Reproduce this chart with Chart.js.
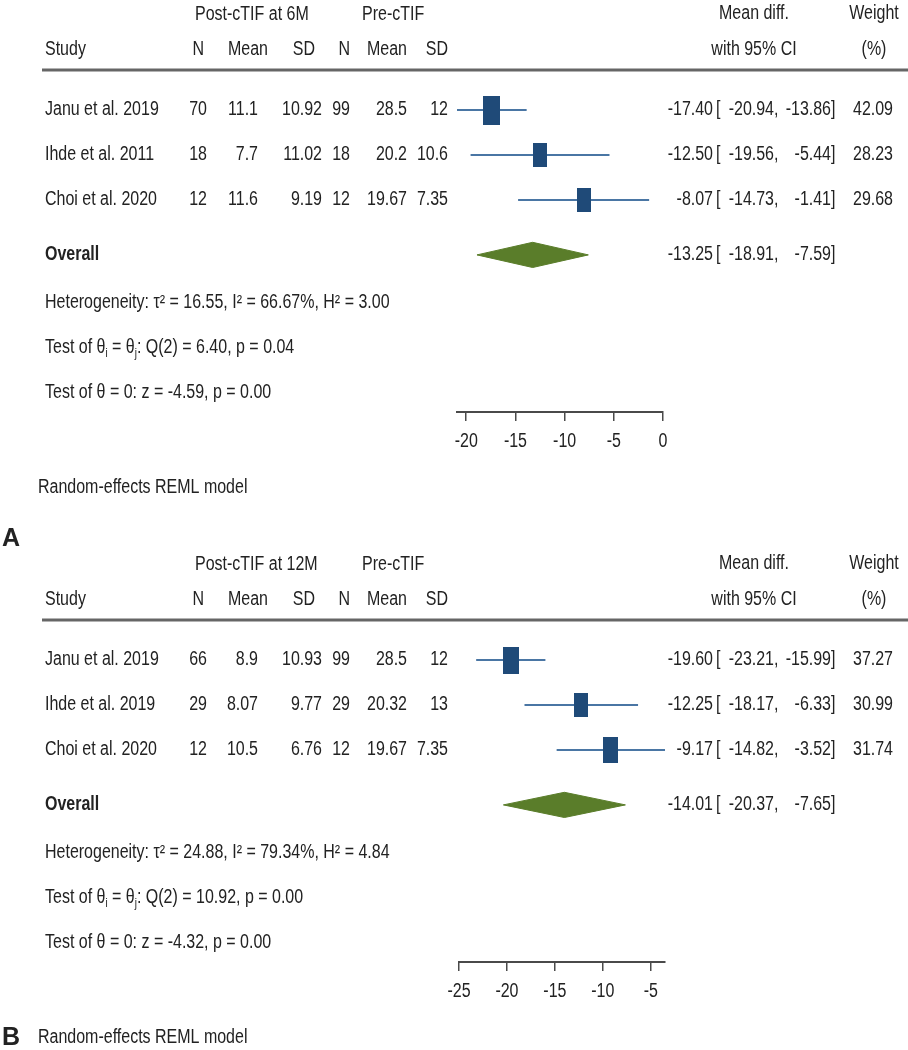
<!DOCTYPE html>
<html>
<head>
<meta charset="utf-8">
<script src="https://cdn.jsdelivr.net/npm/chart.js@4.4.0/dist/chart.umd.min.js"></script>
<style>
  body { margin: 0; background: #fff; }
  canvas { position: absolute; left: 0; }
</style>
</head>
<body>
<canvas id="panelA" width="908" height="525" style="top:0"></canvas>
<canvas id="panelB" width="908" height="525" style="top:525px"></canvas>
<script>
// ---- panel A: 6 months ----
var studiesA = ['Janu et al. 2019', 'Ihde et al. 2011', 'Choi et al. 2020'];
var postNA = [70, 18, 12];
var postMeanA = ['11.1', '7.7', '11.6'];
var postSdA = ['10.92', '11.02', '9.19'];
var preNA = [99, 18, 12];
var preMeanA = ['28.5', '20.2', '19.67'];
var preSdA = ['12', '10.6', '7.35'];
var mdA = [-17.40, -12.50, -8.07];
var loA = [-20.94, -19.56, -14.73];
var hiA = [-13.86, -5.44, -1.41];
var weightA = [42.09, 28.23, 29.68];
var overallA = [-13.25, -18.91, -7.59];   // est, lo, hi
var hetA = ['16.55', '66.67', '3.00'];     // tau2, I2, H2
var qTestA = ['6.40', '0.04'];
var zTestA = ['-4.59', '0.00'];
var ticksA = [-20, -15, -10, -5, 0];

// ---- panel B: 12 months ----
var studiesB = ['Janu et al. 2019', 'Ihde et al. 2019', 'Choi et al. 2020'];
var postNB = [66, 29, 12];
var postMeanB = ['8.9', '8.07', '10.5'];
var postSdB = ['10.93', '9.77', '6.76'];
var preNB = [99, 29, 12];
var preMeanB = ['28.5', '20.32', '19.67'];
var preSdB = ['12', '13', '7.35'];
var mdB = [-19.60, -12.25, -9.17];
var loB = [-23.21, -18.17, -14.82];
var hiB = [-15.99, -6.33, -3.52];
var weightB = [37.27, 30.99, 31.74];
var overallB = [-14.01, -20.37, -7.65];
var hetB = ['24.88', '79.34', '4.84'];
var qTestB = ['10.92', '0.00'];
var zTestB = ['-4.32', '0.00'];
var ticksB = [-25, -20, -15, -10, -5];

var FONT = "'Liberation Sans', Arial, sans-serif";
var NARROW = 0.82;   // squeeze Liberation Sans to look like Arial Narrow
var BOX = '#1f4a78';
var CI = '#4a76a4';
var GREEN = '#5a7d2a';
var TEXT = '#222';

// row positions on the hidden y scale (1 unit = one study row)
var ROW_OVERALL = 4.22;
var ROW_STATS = [5.27, 6.27, 7.27];
var DIAMOND_H = 0.28;

function boxImage(w) {
  var bw = Math.round(2.6 * Math.sqrt(w));
  var bh = Math.round(bw * 1.7);
  var c = document.createElement('canvas');
  c.width = bw; c.height = bh;
  var g = c.getContext('2d');
  g.fillStyle = BOX;
  g.fillRect(0, 0, bw, bh);
  return c;
}

var tablePlugin = {
  id: 'forestTable',
  afterDraw: function (chart) {
    var p = chart.options.plugins.forestTable;
    var ctx = chart.ctx;
    var ys = chart.scales.y;
    var xs = chart.scales.x;
    var top = p.yOff;

    ctx.save();
    ctx.fillStyle = TEXT;
    ctx.textBaseline = 'middle';
    function txt(s, x, y, align, bold, size, squeeze) {
      var sq = squeeze || NARROW;
      ctx.save();
      ctx.font = (bold ? 'bold ' : '') + (size || 19.5) + 'px ' + FONT;
      ctx.textAlign = align || 'left';
      ctx.translate(x, y);
      ctx.scale(sq, 1);
      ctx.fillText(s, 0, 0);
      var w = ctx.measureText(s).width * sq;
      ctx.restore();
      return w;
    }
    function ciText(est, lo, hi, y) {
      txt(est.toFixed(2), 713, y, 'right');
      txt('[', 716, y, 'left');
      txt(lo.toFixed(2), 774, y, 'right');
      txt(',', 774, y, 'left');
      txt(hi.toFixed(2), 831, y, 'right');
      txt(']', 831, y, 'left');
    }

    // header
    txt(p.group, 195, top + 15, 'left');
    txt('Pre-cTIF', 362, top + 15, 'left');
    txt('Study', 45, top + 50, 'left');
    txt('N', 204, top + 50, 'right');
    txt('Mean', 268, top + 50, 'right');
    txt('SD', 315, top + 50, 'right');
    txt('N', 350, top + 50, 'right');
    txt('Mean', 407, top + 50, 'right');
    txt('SD', 448, top + 50, 'right');
    txt('Mean diff.', 754, top + 14, 'center');
    txt('with 95% CI', 754, top + 50, 'center');
    txt('Weight', 874, top + 14, 'center');
    txt('(%)', 874, top + 50, 'center');

    ctx.strokeStyle = '#666';
    ctx.lineWidth = 3;
    ctx.beginPath();
    ctx.moveTo(42, top + 70);
    ctx.lineTo(908, top + 70);
    ctx.stroke();

    // study rows
    p.studies.forEach(function (s, i) {
      var y = ys.getPixelForValue(i + 1);
      txt(s, 45, y, 'left');
      txt(String(p.postN[i]), 207, y, 'right');
      txt(p.postMean[i], 258, y, 'right');
      txt(p.postSd[i], 322, y, 'right');
      txt(String(p.preN[i]), 350, y, 'right');
      txt(p.preMean[i], 407, y, 'right');
      txt(p.preSd[i], 448, y, 'right');
      ciText(p.md[i], p.lo[i], p.hi[i], y);
      txt(p.weight[i].toFixed(2), 893, y, 'right');
    });

    // overall
    var yo = ys.getPixelForValue(ROW_OVERALL);
    txt('Overall', 45, yo, 'left', true);
    ciText(p.overall[0], p.overall[1], p.overall[2], yo);

    // heterogeneity and tests
    var y1 = ys.getPixelForValue(ROW_STATS[0]);
    txt('Heterogeneity: \u03C4\u00B2 = ' + p.het[0] + ', I\u00B2 = ' + p.het[1] + '%, H\u00B2 = ' + p.het[2], 45, y1, 'left');

    var y2 = ys.getPixelForValue(ROW_STATS[1]);
    var x = 45;
    x += txt('Test of \u03B8', x, y2, 'left');
    x += txt('i', x, y2 + 7, 'left', false, 12);
    x += txt(' = \u03B8', x, y2, 'left');
    x += txt('j', x, y2 + 7, 'left', false, 12);
    txt(': Q(2) = ' + p.q[0] + ', p = ' + p.q[1], x, y2, 'left');

    var y3 = ys.getPixelForValue(ROW_STATS[2]);
    txt('Test of \u03B8 = 0: z = ' + p.z[0] + ', p = ' + p.z[1], 45, y3, 'left');

    // x axis tick labels, placed from the scale
    xs.ticks.forEach(function (t) {
      txt(String(t.value), xs.getPixelForValue(t.value), xs.top + 30, 'center');
    });

    txt('Random-effects REML model', 38, top + 488, 'left');
    if (p.panelLabel) txt(p.panelLabel, 2, top + 488, 'left', true, 25, 1);
    if (p.prevLabel) txt(p.prevLabel, 2, 14, 'left', true, 25, 1);
    ctx.restore();
  }
};

function makePanel(id, d) {
  var xMin = Math.min.apply(null, d.lo.concat(d.ticks));
  var xMax = Math.max.apply(null, d.hi.concat(d.ticks));
  var rows = d.md.map(function (v, i) { return i + 1; });

  var datasets = [];
  // study boxes
  datasets.push({
    data: d.md.map(function (v, i) { return { x: v, y: rows[i] }; }),
    pointStyle: d.weight.map(boxImage),
    pointRadius: 5,
    showLine: false
  });
  // confidence intervals
  d.md.forEach(function (v, i) {
    datasets.push({
      data: [{ x: d.lo[i], y: rows[i] }, { x: d.hi[i], y: rows[i] }],
      showLine: true,
      borderColor: CI,
      borderWidth: 2,
      pointRadius: 0
    });
  });
  // overall diamond
  var o = d.overall;
  datasets.push({
    data: [
      { x: o[1], y: ROW_OVERALL },
      { x: o[0], y: ROW_OVERALL - DIAMOND_H },
      { x: o[2], y: ROW_OVERALL },
      { x: o[0], y: ROW_OVERALL + DIAMOND_H },
      { x: o[1], y: ROW_OVERALL }
    ],
    showLine: true,
    fill: 'shape',
    backgroundColor: GREEN,
    borderColor: GREEN,
    borderWidth: 1,
    pointRadius: 0
  });

  var axisTop = d.yOff + 412;
  return new Chart(document.getElementById(id), {
    type: 'scatter',
    data: { datasets: datasets },
    options: {
      responsive: false,
      animation: false,
      devicePixelRatio: 1,
      events: [],
      layout: { padding: { left: d.left, right: 908 - d.left - 206, top: d.yOff + 65, bottom: 0 } },
      plugins: {
        legend: { display: false },
        tooltip: { enabled: false },
        forestTable: d
      },
      scales: {
        x: {
          type: 'linear',
          min: xMin,
          max: xMax,
          afterBuildTicks: function (s) { s.ticks = d.ticks.map(function (v) { return { value: v }; }); },
          afterFit: function (s) { s.height = 525 - axisTop; },
          grid: { display: true, drawOnChartArea: false, drawTicks: true, tickLength: 9, color: '#4a4a4a', lineWidth: 1.5 },
          border: { display: true, color: '#4a4a4a', width: 2 },
          ticks: { display: false }
        },
        y: { type: 'linear', reverse: true, min: 0, max: (412 - 65) / 45, display: false }
      }
    },
    plugins: [tablePlugin]
  });
}

makePanel('panelA', {
  yOff: 0, left: 457, group: 'Post-cTIF at 6M', panelLabel: null, prevLabel: null,
  studies: studiesA, postN: postNA, postMean: postMeanA, postSd: postSdA,
  preN: preNA, preMean: preMeanA, preSd: preSdA,
  md: mdA, lo: loA, hi: hiA, weight: weightA, overall: overallA,
  het: hetA, q: qTestA, z: zTestA, ticks: ticksA
});

makePanel('panelB', {
  yOff: 25, left: 459, group: 'Post-cTIF at 12M', panelLabel: 'B', prevLabel: 'A',
  studies: studiesB, postN: postNB, postMean: postMeanB, postSd: postSdB,
  preN: preNB, preMean: preMeanB, preSd: preSdB,
  md: mdB, lo: loB, hi: hiB, weight: weightB, overall: overallB,
  het: hetB, q: qTestB, z: zTestB, ticks: ticksB
});
</script>
</body>
</html>
